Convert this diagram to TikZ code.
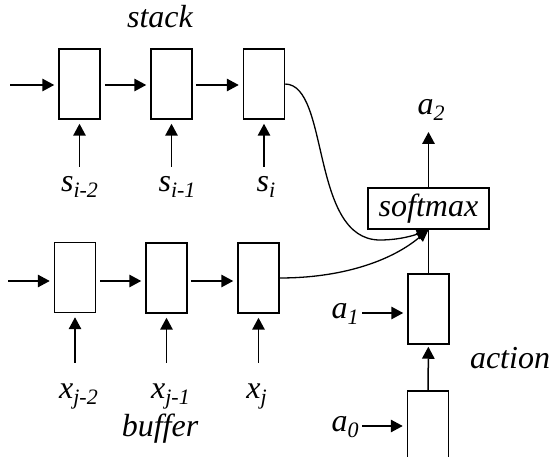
\documentclass[tikz,border=0pt]{standalone}
\usepackage{fontspec}
\setmainfont{Liberation Serif}
\newfontfamily\lblfont{Liberation Serif Italic}
\usetikzlibrary{arrows.meta}
\newcommand\sbx[1]{\raisebox{-6pt}{\fontsize{22}{24}\selectfont #1}}
\begin{document}
\begin{tikzpicture}[x=1pt,y=-1pt,
 cell/.style={draw,line width=1.5pt,minimum width=41pt,minimum height=70pt,inner sep=0pt},
 arr/.style={line width=1.5pt,-{Triangle[length=12pt,width=12.5pt]},shorten >=4pt},
 curv/.style={line width=1.3pt,-{Triangle[length=12pt,width=11pt]}},
 lbl/.style={font=\fontsize{32}{38}\lblfont,inner sep=0pt,anchor=base}]
\useasboundingbox (0,0) rectangle (550,457);
% stack
\node[cell] (s1) at (79.5,84) {};
\node[cell] (s2) at (171.5,84) {};
\node[cell] (s3) at (264,84) {};
% buffer
\node[cell] (b1) at (75,277.5) {};
\node[cell] (b2) at (166.5,278) {};
\node[cell] (b3) at (258.5,278) {};
% action
\node[cell] (c1) at (428.5,309) {};
\node[cell] (c0) at (428,426) {};
% softmax
\node[draw,line width=1.5pt,minimum width=121pt,minimum height=41pt,inner sep=0pt,
  font=\fontsize{32}{38}\lblfont] (sm) at (428.5,208.5) {softmax};
% texts
\node[lbl] (tstack) at (160,28) {stack};
\node[lbl] (tbuf) at (160,437) {buffer};
\node[lbl] (tact) at (510,369) {action};
\node[lbl] (ls1) at (79.5,192) {s\sbx{i-2}};
\node[lbl] (ls2) at (177,192) {s\sbx{i-1}};
\node[lbl] (ls3) at (266,192) {s\sbx{i}};
\node[lbl] (lx1) at (78.5,399) {x\sbx{j-2}};
\node[lbl] (lx2) at (170.5,399) {x\sbx{j-1}};
\node[lbl] (lx3) at (256.5,399) {x\sbx{j}};
\node[lbl] (la2) at (431,115) {a\sbx{2}};
\node[lbl] (la1) at (345,319) {a\sbx{1}};
\node[lbl] (la0) at (345,432) {a\sbx{0}};
% free ends
\coordinate (sin) at (10,85);
\coordinate (bin) at (8,281);
\coordinate (ps1) at (79.5,167);
\coordinate (ps2) at (171.5,167);
\coordinate (ps3) at (264,167);
\coordinate (px1) at (75,363);
\coordinate (px2) at (166.5,363);
\coordinate (px3) at (258.5,363);
\coordinate (pa2) at (428.5,132);
\coordinate (pa1) at (362,313);
\coordinate (pa0) at (362,426);
% stack arrows
\draw[arr] (sin) -- (sin -| s1.west);
\draw[arr] (sin -| s1.east) ++(4,0) -- (sin -| s2.west);
\draw[arr] (sin -| s2.east) ++(3,0) -- (sin -| s3.west);
\draw[arr] (ps1) -- (s1);
\draw[arr] (ps2) -- (s2);
\draw[arr] (ps3) -- (s3);
% buffer arrows
\draw[arr] (bin) -- (bin -| b1.west);
\draw[arr] (bin -| b1.east) ++(4,0) -- (bin -| b2.west);
\draw[arr] (bin -| b2.east) ++(3,0) -- (bin -| b3.west);
\draw[arr] (px1) -- (b1);
\draw[arr] (px2) -- (b2);
\draw[arr] (px3) -- (b3);
% action
\draw[arr] (pa1) -- (pa1 -| c1.west);
\draw[arr] (pa0) -- (pa0 -| c0.west);
\draw[arr,shorten >=2pt] (c0) -- (c1);
\draw[line width=1.5pt] (c1) -- (sm);
\draw[arr,shorten >=0pt] (sm) -- (pa2);
% curves
\draw[curv] (s3.east) .. controls (330,85) and (310,240) .. (380,240)
  .. controls (400,240) and (415,235) .. (sm.south);
\draw[curv] (b3.east) .. controls (340,278) and (390,262) .. (sm.south);
\end{tikzpicture}
\end{document}
